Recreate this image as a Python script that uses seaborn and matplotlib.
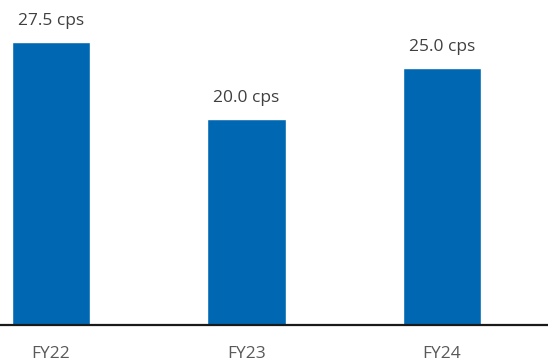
import matplotlib
matplotlib.use("Agg")
import matplotlib.pyplot as plt
import seaborn as sns
import pandas as pd

categories = ["FY22", "FY23", "FY24"]
values = [27.5, 20.0, 25.0]
labels = ["27.5 cps", "20.0 cps", "25.0 cps"]

df = pd.DataFrame({"year": categories, "value": values})

sns.set_theme(style="white")
plt.rcParams['font.family'] = ['Open Sans', 'DejaVu Sans']

fig = plt.figure(figsize=(5.48, 3.62), dpi=100)
ax = fig.add_axes([0, 37/362, 1, 325/362])
sns.barplot(data=df, x="year", y="value", color="#0068B3", width=0.4,
            saturation=1, ax=ax)
ax.set_xlim(-0.261, 2.542)
ax.set_ylim(0, 325/10.28)
for i, (v, t) in enumerate(zip(values, labels)):
    ax.annotate(t, (i, v), xytext=(0, 9.5), textcoords="offset points",
                ha="center", va="bottom", fontsize=12.5, color="#404040")
for s in ["top", "right", "left"]:
    ax.spines[s].set_visible(False)
ax.spines["bottom"].set_color("#1a1a1a")
ax.spines["bottom"].set_linewidth(1.6)
ax.set_yticks([])
ax.set_xlabel("")
ax.set_ylabel("")
ax.tick_params(axis="x", length=0, pad=15, labelsize=12.5, labelcolor="#595959")
fig.savefig("out.png", dpi=100)
